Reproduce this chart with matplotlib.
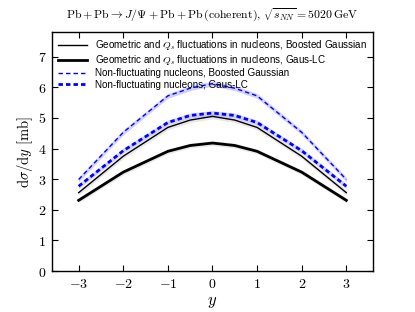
import matplotlib
matplotlib.use("Agg")
import matplotlib.pyplot as plt
import numpy as np

plt.rcParams['mathtext.fontset'] = 'cm'
plt.rcParams['font.family'] = ['Liberation Sans', 'DejaVu Sans']

rapidity = [-3, -2, -1, -0.5, 0, 0.5, 1, 2, 3]
geo_bg = [2.56, 3.75, 4.69, 4.93, 5.05, 4.93, 4.69, 3.75, 2.56]
geo_lc = [2.31, 3.23, 3.91, 4.10, 4.18, 4.10, 3.91, 3.23, 2.31]
nonfl_bg = [2.99, 4.53, 5.72, 5.97, 6.12, 5.97, 5.72, 4.53, 2.99]
nonfl_lc = [2.77, 3.93, 4.85, 5.08, 5.16, 5.08, 4.85, 3.93, 2.77]
band = 0.08

labels = [r"Geometric and $Q_s$ fluctuations in nucleons, Boosted Gaussian",
          r"Geometric and $Q_s$ fluctuations in nucleons, Gaus-LC",
          "Non-fluctuating nucleons, Boosted Gaussian",
          "Non-fluctuating nucleons, Gaus-LC"]

fig = plt.figure(figsize=(4.15, 3.12), dpi=100)
ax = fig.add_axes([0.125, 0.131, 0.774, 0.766])

x = np.array(rapidity)
series = [
    (geo_bg, 'black', None, 1.0, 'grey'),
    (geo_lc, 'black', None, 2.0, 'grey'),
    (nonfl_bg, 'blue', (3.2, 2.2), 1.0, 'blue'),
    (nonfl_lc, 'blue', (1.6, 1.1), 2.0, 'blue'),
]
for (vals, c, dash, lw, bc), lab in zip(series, labels):
    v = np.array(vals)
    ax.fill_between(x, v - band, v + band, color=bc, alpha=0.18, lw=0)
    line, = ax.plot(x, v, color=c, lw=lw, label=lab)
    if dash is not None:
        line.set_dashes(dash)

ax.set_xlim(-3.6, 3.6)
ax.set_ylim(0, 7.8)
ax.set_xticks([-3, -2, -1, 0, 1, 2, 3])
ax.set_yticks([0, 1, 2, 3, 4, 5, 6, 7])
ax.set_xticklabels([r"$%d$" % t for t in [-3, -2, -1, 0, 1, 2, 3]])
ax.set_yticklabels([r"$%d$" % t for t in range(8)])
ax.tick_params(direction='in', top=True, right=True, labelsize=10, length=4, pad=4)
for s in ax.spines.values():
    s.set_linewidth(1.0)

ax.set_xlabel(r"$y$", fontsize=12, labelpad=3)
ax.set_ylabel(r"$\mathrm{d}\sigma/\mathrm{d}y\ \mathrm{[mb]}$", fontsize=10.5, labelpad=2)
ax.set_title(r"$\mathrm{Pb+Pb}\rightarrow J/\Psi+\mathrm{Pb}+\mathrm{Pb}\,(\mathrm{coherent}),\,\sqrt{s_{NN}}=5020\,\mathrm{GeV}$",
             fontsize=8.5, pad=10)

leg = ax.legend(loc='upper left', frameon=False, fontsize=7.1, handlelength=3.0,
                labelspacing=0.12, borderaxespad=0.3, handletextpad=0.8,
                borderpad=0.3)

fig.savefig("out.png", dpi=100)
